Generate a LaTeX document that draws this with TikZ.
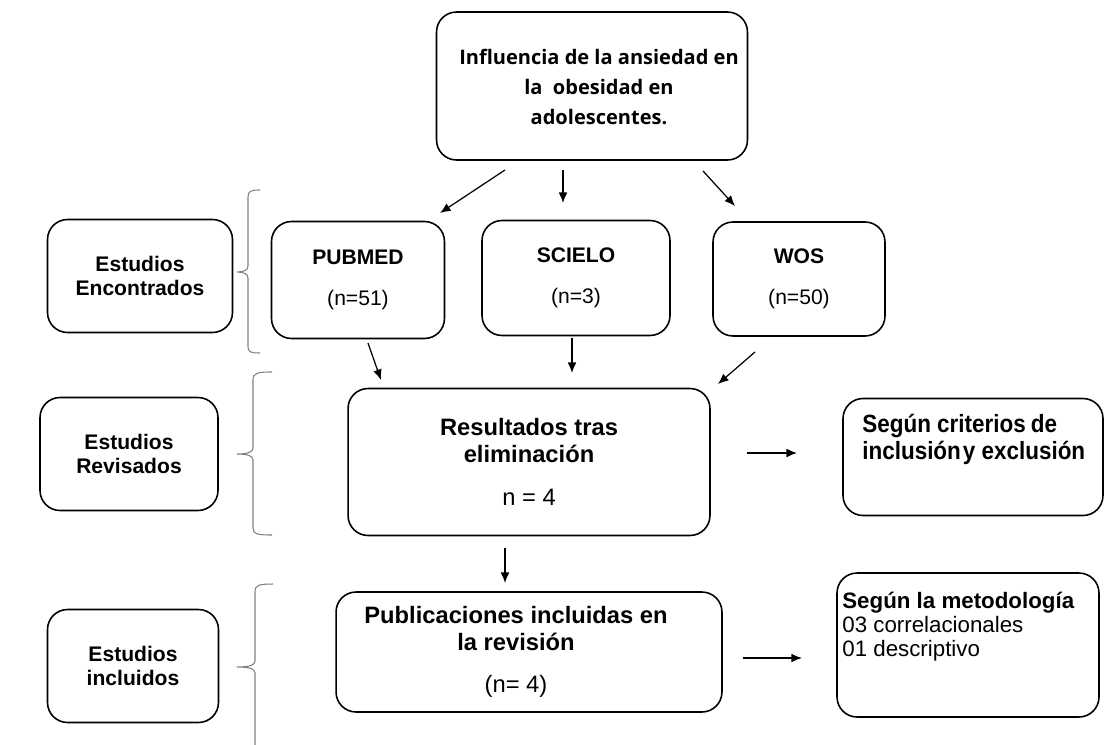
\documentclass[tikz,border=0pt]{standalone}
\usepackage{fontspec}
\setmainfont{Liberation Sans}
\newfontfamily\titulofont{Open Sans}
\newfontfamily\estrecha{Liberation Sans}[FakeStretch=0.9]
\usepackage{tikz}
\usetikzlibrary{arrows,positioning,calc}
\usetikzlibrary{arrows.meta}
\tikzstyle{caja}=[draw, rounded corners=0.4cm, line width=0.9pt, align=center, inner sep=0pt, font=\fontsize{12}{14}\selectfont\bfseries]
\tikzstyle{flecha}=[-{Latex[length=6pt,width=5pt]}, line width=0.7pt]
\tikzstyle{llave}=[draw=black!50, line width=0.6pt]

\begin{document}
\begin{tikzpicture}[x=0.02cm, y=-0.02cm, grande/.style={font=\fontsize{13.5}{15.3}\selectfont\bfseries}]
\useasboundingbox (0,0) rectangle (1105,744);
\node (tema) at (592,86) [caja, minimum width=6.22cm, minimum height=2.96cm] {};
\node (tematxt) at (599,87) [align=center, inner sep=0pt, font=\titulofont\fontsize{11.4}{17}\selectfont\bfseries] {Influencia de la ansiedad en\\la\ \ obesidad en\\adolescentes.};
\node (encontrados) at (140,276) [caja, minimum width=3.7cm, minimum height=2.26cm] {Estudios\\Encontrados};
\node (pubmed) at (358,280) [caja, minimum width=3.46cm, minimum height=2.34cm] {PUBMED\\[9pt]{\mdseries (n=51)}};
\node (scielo) at (576,278) [caja, minimum width=3.76cm, minimum height=2.3cm] {SCIELO\\[9pt]{\mdseries (n=3)}};
\node (wos) at (799,279) [caja, minimum width=3.44cm, minimum height=2.28cm] {WOS\\[9pt]{\mdseries (n=50)}};
\node (revisados) at (129,454) [caja, minimum width=3.56cm, minimum height=2.26cm] {Estudios\\Revisados};
\node (resultados) at (529,462) [caja, grande, minimum width=7.24cm, minimum height=2.94cm] {Resultados tras\\eliminación\\[9pt]{\mdseries n = 4}};
\node (criterios) at (973,457) [caja, minimum width=5.2cm, minimum height=2.34cm] {};
\node (criteriostxt) at (862,414) [anchor=north west, inner sep=0pt, align=left, font=\estrecha\fontsize{14.2}{15.5}\selectfont\bfseries] {Según criterios\hspace{0.2em}de\\inclusión\hspace{0.08em}y exclusión};
\node (incluidos) at (133,666) [caja, minimum width=3.42cm, minimum height=2.26cm] {Estudios\\incluidos};
\node (publicaciones) at (529,652) [caja, minimum width=7.72cm, minimum height=2.4cm] {};
\node (publicacionestxt) at (516,652) [grande, align=center, inner sep=0pt] {Publicaciones incluidas en\\la revisión\\[9pt]{\mdseries (n= 4)}};
\node (metodologia) at (968,645) [caja, minimum width=5.24cm, minimum height=2.88cm] {};
\node (metodologiatxt) at (842,592) [anchor=north west, inner sep=0pt, align=left, font=\fontsize{12.7}{13.6}\selectfont] {\textbf{Según la metodología}\\03 correlacionales\\01 descriptivo};

% extremos de las flechas
\coordinate (t1) at (505,170); \coordinate (p1) at (440,213);
\coordinate (t2) at (563,170); \coordinate (p2) at (563,203);
\coordinate (t3) at (703,171); \coordinate (p3) at (735,206);
\coordinate (r1) at (368,343); \coordinate (q1) at (381,380);
\coordinate (r2) at (572,338); \coordinate (q2) at (572,373);
\coordinate (r3) at (755,352); \coordinate (q3) at (718,384);
\coordinate (s1) at (747,453); \coordinate (u1) at (797,453);
\coordinate (s2) at (505,548); \coordinate (u2) at (505,583);
\coordinate (s3) at (743,658); \coordinate (u3) at (802,658);

\draw[flecha] (t1) -- (p1);
\draw[flecha] (t2) -- (p2);
\draw[flecha] (t3) -- (p3);
\draw[flecha] (r1) -- (q1);
\draw[flecha] (r2) -- (q2);
\draw[flecha] (r3) -- (q3);
\draw[flecha] (s1) -- (u1);
\draw[flecha] (s2) -- (u2);
\draw[flecha, line width=0.9pt] (s3) -- (u3);

% llaves
\draw[llave] (260,190) .. controls (251,190) and (248,191) .. (248,197) -- (248,266) .. controls (248,270) and (244,272) .. (237,272) .. controls (244,272) and (248,274) .. (248,278) -- (248,347) .. controls (248,352) and (251,353) .. (260,353);
\draw[llave] (272,372) .. controls (257,372) and (253,373) .. (253,380) -- (253,448) .. controls (253,452) and (248,454) .. (237,454) .. controls (248,454) and (253,456) .. (253,460) -- (253,528) .. controls (253,534) and (257,535) .. (272,535);
\draw[llave] (273,584) .. controls (259,584) and (255,585) .. (255,592) -- (255,661) .. controls (255,665) and (250,667) .. (237,667) .. controls (250,667) and (255,669) .. (255,673) -- (255,760);
\end{tikzpicture}
\end{document}
